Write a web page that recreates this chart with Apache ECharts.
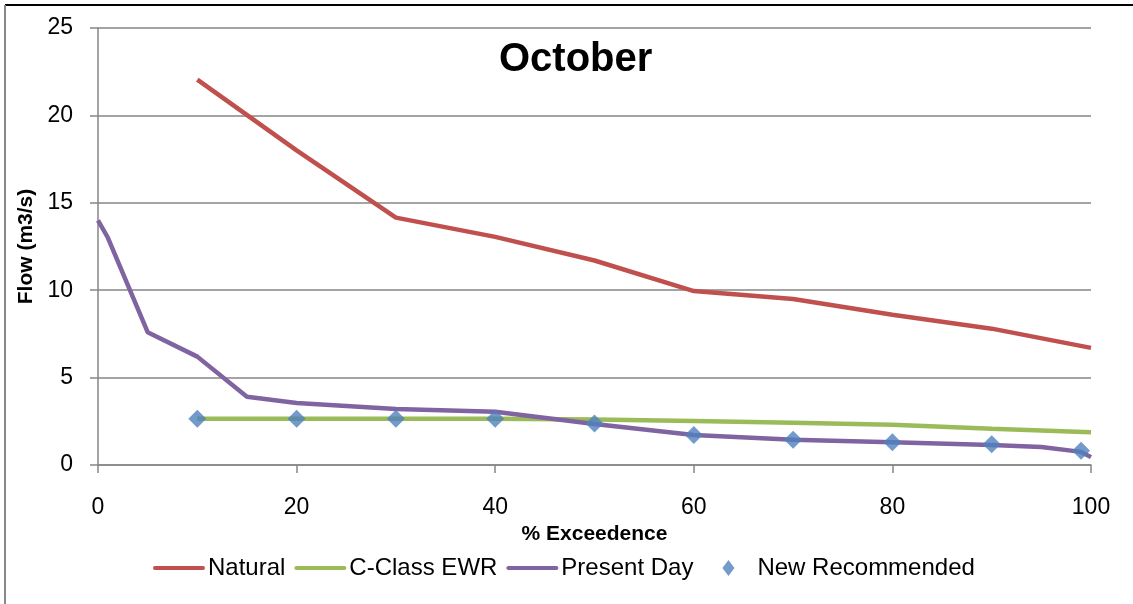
<!DOCTYPE html>
<html><head><meta charset="utf-8">
<script src="https://cdn.jsdelivr.net/npm/echarts@6/dist/echarts.min.js"></script>
<style>html,body{margin:0;padding:0;background:#fff}#c{width:1133px;height:604px}</style>
</head><body><div id="c"></div>
<script>
const natX = [10,20,30,40,50,60,70,80,90,100];
const natY = [22.05,18.0,14.15,13.05,11.7,9.95,9.5,8.6,7.8,6.7];
const ewrX = [10,20,30,40,50,60,70,80,90,100];
const ewrY = [2.65,2.65,2.65,2.65,2.6,2.52,2.42,2.3,2.08,1.88];
const pdX = [0,1,5,10,15,20,30,40,50,60,70,80,90,95,99,100];
const pdY = [14.0,13.0,7.6,6.2,3.9,3.55,3.2,3.05,2.35,1.72,1.45,1.3,1.15,1.03,0.75,0.45];
const recX = [10,20,30,40,50,60,70,80,90,99];
const recY = [2.65,2.65,2.65,2.65,2.38,1.72,1.45,1.3,1.18,0.82];
const xTicks = [0,20,40,60,80,100];
const yTicks = [0,5,10,15,20,25];
const seriesNames = ['Natural','C-Class EWR','Present Day','New Recommended'];
const titleText = 'October';
const xName = '% Exceedence';
const yName = 'Flow (m3/s)';

const zip = (a,b) => a.map((v,i)=>[v,b[i]]);
const F = 'Liberation Sans';
const gridCol = '#868686';
const lineIcon = 'path://M2,0H50A2,2 0 0 1 50,4H2A2,2 0 0 1 2,0Z';
const diaIcon = 'path://M0,0M52,16M26,0L32,8L26,16L20,8Z';
const chart = echarts.init(document.getElementById('c'));
chart.setOption({
  animation:false,
  backgroundColor:'#fff',
  textStyle:{fontFamily:F,color:'#000'},
  title:{text:titleText,left:494,top:35,textStyle:{fontFamily:F,fontSize:40,fontWeight:'bold',color:'#000'}},
  grid:{left:98,right:42,top:28,bottom:139,containLabel:false},
  xAxis:{type:'value',min:xTicks[0],max:xTicks[xTicks.length-1],interval:20,
    name:xName,nameLocation:'middle',nameGap:56,
    nameTextStyle:{fontFamily:F,fontSize:21,fontWeight:'bold',color:'#000'},
    axisLine:{show:true,lineStyle:{color:gridCol,width:1.5}},
    axisTick:{show:true,inside:false,length:8,lineStyle:{color:gridCol,width:1.5}},
    axisLabel:{fontFamily:F,fontSize:23,color:'#000',margin:31},
    splitLine:{show:false}},
  yAxis:{type:'value',min:yTicks[0],max:yTicks[yTicks.length-1],interval:5,
    name:yName,nameLocation:'middle',nameGap:60,nameRotate:90,
    nameTextStyle:{fontFamily:F,fontSize:21,fontWeight:'bold',color:'#000'},
    axisLine:{show:true,lineStyle:{color:gridCol,width:1.5}},
    axisTick:{show:true,inside:false,length:8,lineStyle:{color:gridCol,width:1.5}},
    axisLabel:{fontFamily:F,fontSize:23,color:'#000',margin:25},
    splitLine:{show:true,lineStyle:{color:gridCol,width:1.5}}},
  legend:{left:148,top:551,itemWidth:52,itemHeight:16,itemGap:9,
    textStyle:{fontFamily:F,fontSize:24,color:'#000',padding:[0,0,0,-2]},
    data:[
      {name:seriesNames[0],icon:lineIcon},
      {name:seriesNames[1],icon:lineIcon},
      {name:seriesNames[2],icon:lineIcon},
      {name:seriesNames[3],icon:diaIcon}
    ]},
  graphic:[
    {type:'line',shape:{x1:5,y1:5,x2:1133,y2:5},style:{stroke:'#000',lineWidth:2}},
    {type:'line',shape:{x1:5,y1:5,x2:5,y2:604},style:{stroke:'#888',lineWidth:2}}
  ],
  series:[
    {name:seriesNames[0],type:'line',data:zip(natX,natY),symbol:'none',lineStyle:{color:'#C0504D',width:4.5},itemStyle:{color:'#C0504D'}},
    {name:seriesNames[1],type:'line',data:zip(ewrX,ewrY),symbol:'none',lineStyle:{color:'#9BBB59',width:4.5},itemStyle:{color:'#9BBB59'}},
    {name:seriesNames[2],type:'line',data:zip(pdX,pdY),symbol:'none',lineStyle:{color:'#8064A2',width:4.5},itemStyle:{color:'#8064A2'}},
    {name:seriesNames[3],type:'scatter',data:zip(recX,recY),symbol:'diamond',symbolSize:18,itemStyle:{color:'#4F81BD'},z:5}
  ]
});
</script></body></html>
